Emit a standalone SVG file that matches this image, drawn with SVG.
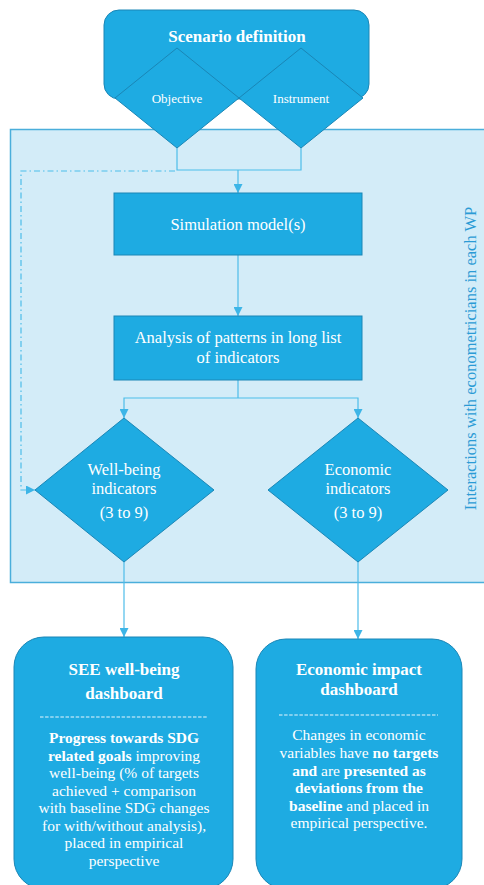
<svg xmlns="http://www.w3.org/2000/svg" width="484" height="885" viewBox="0 0 484 885" font-family="'Liberation Serif', 'Times New Roman', 'DejaVu Serif', serif">
<defs>
<marker id="arr" viewBox="0 0 10 10" refX="10" refY="5" markerWidth="9" markerHeight="9" markerUnits="userSpaceOnUse" orient="auto"><path d="M0,0 L10,5 L0,10 z" fill="#3db5e7"/></marker>
</defs>
<style>
.shape{fill:#1eabe2;stroke:#1a86b6;stroke-width:1}
.t{font-family:'Liberation Serif', 'Times New Roman', 'DejaVu Serif', serif;fill:#ffffff;text-anchor:middle}
.b{font-weight:bold}
.conn{fill:none;stroke:#4dbde9;stroke-width:1.2}
.sep{stroke:#e6f5fc;stroke-width:1;stroke-dasharray:3.5 1.6}
</style>
<g id="wp-area">
<rect x="10.5" y="129.5" width="480" height="453" fill="#d3ecf8" stroke="#4aaedb" stroke-width="1.5"/>
<text class="t" transform="translate(476,358.5) rotate(-90)" font-size="16.5" style="fill:#2b9bd5">Interactions with econometricians in each WP</text>
</g>
<g id="scenario">
<rect x="104" y="10" width="265" height="89" rx="15" class="shape"/>
<text class="t b" x="237" y="42" font-size="17">Scenario definition</text>
</g>
<g id="objective">
<polygon points="177,48 239,98 177,148 115,98" class="shape"/>
<text class="t" x="177" y="103" font-size="13">Objective</text>
</g>
<g id="instrument">
<polygon points="301,48 363,98 301,148 239,98" class="shape"/>
<text class="t" x="301" y="103" font-size="13">Instrument</text>
</g>
<g id="connectors">
<path d="M177,148 V170 H301 V148" class="conn"/>
<path d="M238,170 V193" class="conn" marker-end="url(#arr)"/>
<path d="M175,171 H21 V490 H35" class="conn" stroke-dasharray="6 3 1.5 3" marker-end="url(#arr)"/>
<path d="M238,255 V316" class="conn" marker-end="url(#arr)"/>
<path d="M238,380 V398" class="conn"/>
<path d="M238,398 H124 V418" class="conn" marker-end="url(#arr)"/>
<path d="M238,398 H358 V418" class="conn" marker-end="url(#arr)"/>
<path d="M124,562 V637" class="conn" marker-end="url(#arr)"/>
<path d="M358,562 V639" class="conn" marker-end="url(#arr)"/>
</g>
<g id="simulation">
<rect x="114" y="193" width="248" height="62" class="shape"/>
<text class="t" x="238" y="230" font-size="16.5">Simulation model(s)</text>
</g>
<g id="analysis">
<rect x="114" y="316" width="248" height="64" class="shape"/>
<text class="t" x="238" y="343" font-size="16.5">Analysis of patterns in long list</text>
<text class="t" x="238" y="363" font-size="16.5">of indicators</text>
</g>
<g id="wellbeing-indicators">
<polygon points="124,418 214,490 124,562 35,490" class="shape"/>
<text class="t" x="124" y="475" font-size="16.5">Well-being</text>
<text class="t" x="124" y="494" font-size="16.5">indicators</text>
<text class="t" x="124" y="518" font-size="16.5">(3 to 9)</text>
</g>
<g id="economic-indicators">
<polygon points="358,418 448,490 358,562 268,490" class="shape"/>
<text class="t" x="358" y="475" font-size="16.5">Economic</text>
<text class="t" x="358" y="494" font-size="16.5">indicators</text>
<text class="t" x="358" y="518" font-size="16.5">(3 to 9)</text>
</g>
<g id="see-dashboard">
<rect x="14" y="637" width="219" height="252" rx="30" class="shape"/>
<text class="t b" x="124" y="675" font-size="17">SEE well-being</text>
<text class="t b" x="124" y="699" font-size="17">dashboard</text>
<line x1="40" y1="717" x2="208" y2="717" class="sep"/>
<g class="t" font-size="15.5">
<text class="t b" x="124" y="743">Progress towards SDG</text>
<text class="t" x="124" y="760.6"><tspan font-weight="bold">related goals</tspan> improving</text>
<text class="t" x="124" y="778">well-being (% of targets</text>
<text class="t" x="124" y="796">achieved + comparison</text>
<text class="t" x="124" y="813">with baseline SDG changes</text>
<text class="t" x="124" y="831">for with/without analysis),</text>
<text class="t" x="124" y="848">placed in empirical</text>
<text class="t" x="124" y="866">perspective</text>
</g>
</g>
<g id="economic-dashboard">
<rect x="256" y="639" width="206" height="250" rx="30" class="shape"/>
<text class="t b" x="359" y="675" font-size="17">Economic impact</text>
<text class="t b" x="359" y="695" font-size="17">dashboard</text>
<line x1="279" y1="715" x2="438" y2="715" class="sep"/>
<g class="t" font-size="15.5">
<text class="t" x="359" y="740">Changes in economic</text>
<text class="t" x="359" y="758">variables have <tspan font-weight="bold">no targets</tspan></text>
<text class="t" x="359" y="776"><tspan font-weight="bold">and</tspan> are <tspan font-weight="bold">presented as</tspan></text>
<text class="t b" x="359" y="793">deviations from the</text>
<text class="t" x="359" y="811"><tspan font-weight="bold">baseline</tspan> and placed in</text>
<text class="t" x="359" y="828">empirical perspective.</text>
</g>
</g>
</svg>
